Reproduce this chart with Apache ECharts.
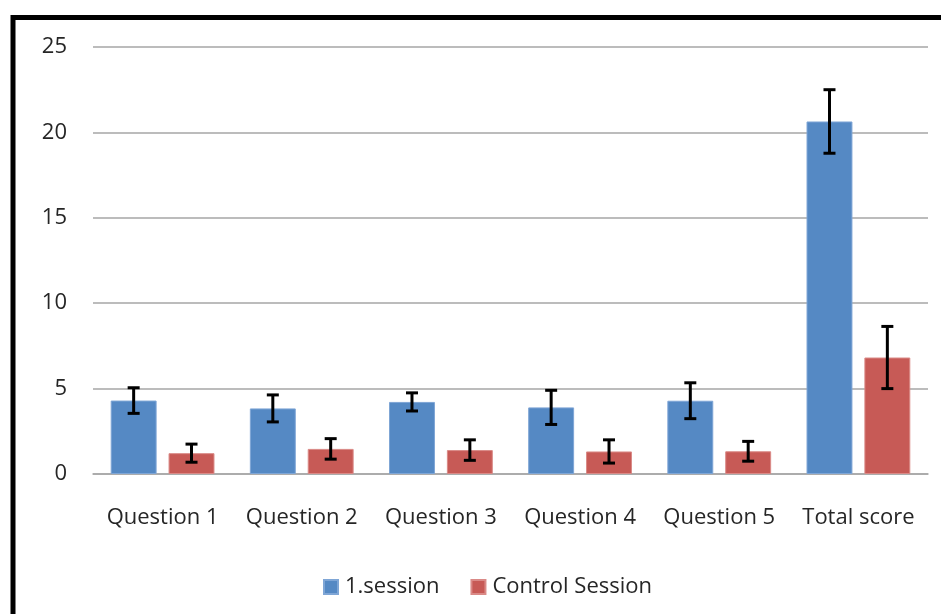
<!DOCTYPE html>
<html><head><meta charset="utf-8">
<script src="https://cdn.jsdelivr.net/npm/echarts@6/dist/echarts.min.js"></script>
<style>html,body{margin:0;padding:0;background:#fff}#c{width:941px;height:614px}</style>
</head><body><div id="c"></div>
<script>
var categories = ['Question 1','Question 2','Question 3','Question 4','Question 5','Total score'];
var session1 = [4.3, 3.84, 4.22, 3.9, 4.29, 20.64];
var session1Err = [0.75, 0.79, 0.53, 1.0, 1.05, 1.86];
var control = [1.22, 1.47, 1.4, 1.32, 1.33, 6.82];
var controlErr = [0.53, 0.6, 0.6, 0.68, 0.58, 1.82];
var yTicks = [0, 5, 10, 15, 20, 25];

var BAR_W = 0.33, BAR_GAP = 0.26;
var textColor = '#262626';
var font = 'Open Sans';

function errSeries(name, means, errs, side) {
  var data = means.map(function (m, i) { return [i, m - errs[i], m + errs[i]]; });
  return {
    type: 'custom', name: name + ' err', z: 10, silent: true,
    data: data,
    encode: { x: 0, y: [1, 2] },
    renderItem: function (params, api) {
      var band = api.size([1, 0])[0];
      var bw = band * BAR_W;
      var off = side * (bw + bw * BAR_GAP) / 2;
      var lo = api.coord([api.value(0), api.value(1)]);
      var hi = api.coord([api.value(0), api.value(2)]);
      var x = lo[0] + off, cap = 6;
      var st = { stroke: '#000', lineWidth: 3 };
      return { type: 'group', children: [
        { type: 'line', shape: { x1: x, y1: lo[1], x2: x, y2: hi[1] }, style: st },
        { type: 'line', shape: { x1: x - cap, y1: lo[1], x2: x + cap, y2: lo[1] }, style: st },
        { type: 'line', shape: { x1: x - cap, y1: hi[1], x2: x + cap, y2: hi[1] }, style: st }
      ]};
    }
  };
}

var chart = echarts.init(document.getElementById('c'));
chart.setOption({
  animation: false,
  textStyle: { fontFamily: font },
  grid: { left: 93, right: 13, top: 47, bottom: 140 },
  legend: {
    left: 318, top: 571, itemWidth: 14, itemHeight: 14, itemGap: 31, icon: 'rect',
    data: ['1.session', 'Control Session'],
    textStyle: { fontFamily: font, fontSize: 22, color: textColor, padding: [0, 0, 0, 2] }
  },
  xAxis: {
    type: 'category', data: categories,
    axisLine: { lineStyle: { color: '#a6a6a6', width: 1.5 } },
    axisTick: { show: false },
    axisLabel: { fontFamily: font, fontSize: 22, color: textColor, margin: 33, interval: 0 }
  },
  yAxis: {
    type: 'value', min: yTicks[0], max: yTicks[yTicks.length - 1], interval: 5,
    axisLine: { show: false }, axisTick: { show: false },
    splitLine: { lineStyle: { color: '#a6a6a6', width: 1.5 } },
    axisLabel: { fontFamily: font, fontSize: 22, color: textColor, margin: 26 }
  },
  series: [
    { name: '1.session', type: 'bar', data: session1, barWidth: (BAR_W * 100) + '%', barGap: (BAR_GAP * 100) + '%',
      itemStyle: { color: '#5589C4', borderColor: '#7FA6D6', borderWidth: 1 } },
    { name: 'Control Session', type: 'bar', data: control, barWidth: (BAR_W * 100) + '%',
      itemStyle: { color: '#C75A56', borderColor: '#DA8A87', borderWidth: 1 } },
    errSeries('1.session', session1, session1Err, -1),
    errSeries('Control Session', control, controlErr, 1)
  ],
  graphic: [{
    type: 'rect', z: 100, silent: true,
    shape: { x: 13, y: 17.5, width: 1000, height: 700 },
    style: { fill: 'none', stroke: '#000', lineWidth: 5 }
  }]
});
</script></body></html>
